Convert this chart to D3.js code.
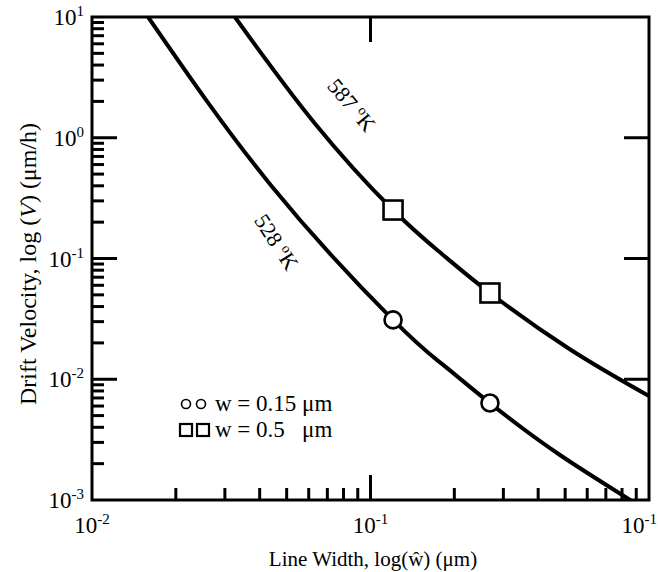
<!DOCTYPE html>
<html><head><meta charset="utf-8">
<script src="https://cdn.jsdelivr.net/npm/d3@7"></script>
<style>
body{margin:0;background:#fff}
svg{display:block}
text{font-family:"Liberation Serif","Times New Roman",serif;fill:#000}
</style>
</head><body>
<svg id="c" width="658" height="572"></svg>
<script>
// ---- data ----
const curve528W = [0.0159, 0.0438, 0.1205, 0.18, 0.2685, 0.479, 0.855, 1.0];
const curve528V = [10, 0.407, 0.031, 0.01346, 0.00635, 0.00236, 0.001, 0.00075];
const curve587W = [0.0326, 0.0627, 0.1205, 0.18, 0.2685, 0.518, 1.0];
const curve587V = [10, 1.34, 0.252, 0.1096, 0.0518, 0.0178, 0.00726];
const circleW = [0.1205, 0.2685];
const circleV = [0.031, 0.00636];
const squareW = [0.1205, 0.2685];
const squareV = [0.252, 0.0518];
const xTickValues = [0.01, 0.1, 1];
const xTickExp = ["-2", "-1", "-1"];
const yTickValues = [0.001, 0.01, 0.1, 1, 10];
const yTickExp = ["-3", "-2", "-1", "0", "1"];
const curveLabels = ["528 ", "587 "];
const legendLabels = ["w = 0.15 \u03bcm", "w = 0.5 \u00a0\u00a0\u03bcm"];

// ---- layout ----
const margin = {left: 92, top: 17, right: 9, bottom: 72};
const W = 658, H = 572;
const svg = d3.select("#c");
const x = d3.scaleLog().domain([0.01, 1]).range([margin.left, W - margin.right]);
const y = d3.scaleLog().domain([0.001, 10]).range([H - margin.bottom, margin.top]);
const x0 = x.range()[0], x1 = x.range()[1], y0 = y.range()[0], y1 = y.range()[1];

svg.append("defs").append("clipPath").attr("id", "clip")
  .append("rect").attr("x", x0).attr("y", y1).attr("width", x1 - x0).attr("height", y0 - y1);

// minor tick values
const minors = [];
[0.001, 0.01, 0.1, 1].forEach(d => { for (let k = 2; k <= 9; k++) minors.push(k * d); });
const xMinors = [];
[0.01, 0.1].forEach(d => { for (let k = 2; k <= 9; k++) xMinors.push(k * d); });

const tickG = svg.append("g").attr("stroke", "#000").attr("stroke-width", 3);
// left axis ticks (inward)
tickG.selectAll(".ylm").data(minors).join("line")
  .attr("x1", x0).attr("x2", x0 + 12).attr("y1", d => y(d)).attr("y2", d => y(d));
tickG.selectAll(".ylM").data(yTickValues.slice(1, -1)).join("line")
  .attr("x1", x0).attr("x2", x0 + 25).attr("y1", d => y(d)).attr("y2", d => y(d));
// right axis major ticks
tickG.selectAll(".yrM").data(yTickValues.slice(1, -1)).join("line")
  .attr("x1", x1).attr("x2", x1 - 25).attr("y1", d => y(d)).attr("y2", d => y(d));
// bottom ticks
tickG.selectAll(".xbm").data(xMinors).join("line")
  .attr("x1", d => x(d)).attr("x2", d => x(d)).attr("y1", y0).attr("y2", y0 - 12);
tickG.selectAll(".xbM").data([0.1]).join("line")
  .attr("x1", d => x(d)).attr("x2", d => x(d)).attr("y1", y0).attr("y2", y0 - 25);
// top major tick
tickG.selectAll(".xtM").data([0.1]).join("line")
  .attr("x1", d => x(d)).attr("x2", d => x(d)).attr("y1", y1).attr("y2", y1 + 25);

// frame
svg.append("rect").attr("x", x0).attr("y", y1).attr("width", x1 - x0).attr("height", y0 - y1)
  .attr("fill", "none").attr("stroke", "#000").attr("stroke-width", 3);

// curves
const line = d3.line().x(d => x(d[0])).y(d => y(d[1])).curve(d3.curveNatural);
const cg = svg.append("g").attr("clip-path", "url(#clip)");
[[curve528W, curve528V], [curve587W, curve587V]].forEach(([ws, vs]) => {
  cg.append("path").datum(ws.map((w, i) => [w, vs[i]])).attr("d", line)
    .attr("fill", "none").attr("stroke", "#000").attr("stroke-width", 4);
});

// markers
svg.selectAll(".circ").data(circleW.map((w, i) => [w, circleV[i]])).join("circle")
  .attr("cx", d => x(d[0])).attr("cy", d => y(d[1])).attr("r", 8.5)
  .attr("fill", "#fff").attr("stroke", "#000").attr("stroke-width", 2.6);
svg.selectAll(".sq").data(squareW.map((w, i) => [w, squareV[i]])).join("rect")
  .attr("x", d => x(d[0]) - 9.5).attr("y", d => y(d[1]) - 9.5).attr("width", 19).attr("height", 19)
  .attr("fill", "#fff").attr("stroke", "#000").attr("stroke-width", 2.6);

// tick labels
const xl = svg.selectAll(".xl").data(xTickValues).join("text")
  .attr("x", (d, i) => i === 2 ? W - 1 : x(d)).attr("y", y0 + 33)
  .attr("text-anchor", (d, i) => i === 2 ? "end" : "middle").attr("font-size", 23);
xl.append("tspan").text("10");
xl.append("tspan").attr("dy", -9).attr("font-size", 15).text((d, i) => xTickExp[i]);

const yl = svg.selectAll(".yl").data(yTickValues).join("text")
  .attr("x", x0 - 8).attr("y", d => y(d) + 8).attr("text-anchor", "end").attr("font-size", 23);
yl.append("tspan").text("10");
yl.append("tspan").attr("dy", -9).attr("font-size", 15).text((d, i) => yTickExp[i]);

// axis titles
const xt = svg.append("text").attr("x", 373).attr("y", 566).attr("text-anchor", "middle").attr("font-size", 21);
xt.text("Line Width, log(w\u0302) (\u03bcm)");

const yt = svg.append("text").attr("transform", "translate(36,264) rotate(-90)")
  .attr("text-anchor", "middle").attr("font-size", 24);
yt.append("tspan").text("Drift Velocity, log (");
yt.append("tspan").attr("font-style", "italic").text("V");
yt.append("tspan").text(") (\u03bcm/h)");

// curve labels
const labPos = [[0.0436, 0.127, 57], [0.0817, 1.7, 50]];
curveLabels.forEach((t, i) => {
  const [lw, lv, ang] = labPos[i];
  const tx = svg.append("text").attr("font-size", 22).attr("text-anchor", "middle")
    .attr("transform", `translate(${x(lw)},${y(lv)}) rotate(${ang})`);
  tx.append("tspan").text(t);
  tx.append("tspan").attr("dy", -8).attr("font-size", 14).text("o");
  tx.append("tspan").attr("dy", 8).text("K");
});

// legend
const lg = svg.append("g");
const lx = 186, ly = [404, 430];
[0, 1].forEach(k => {
  lg.append("circle").attr("cx", lx + 15 * k).attr("cy", ly[0]).attr("r", 4.5)
    .attr("fill", "#fff").attr("stroke", "#000").attr("stroke-width", 1.6);
  lg.append("rect").attr("x", lx - 6 + 17 * k).attr("y", ly[1] - 6).attr("width", 12).attr("height", 12)
    .attr("fill", "#fff").attr("stroke", "#000").attr("stroke-width", 2.2);
});
legendLabels.forEach((t, i) => {
  lg.append("text").attr("x", 215).attr("y", ly[i] + 7).attr("font-size", 23).text(t);
});
</script>
</body></html>
